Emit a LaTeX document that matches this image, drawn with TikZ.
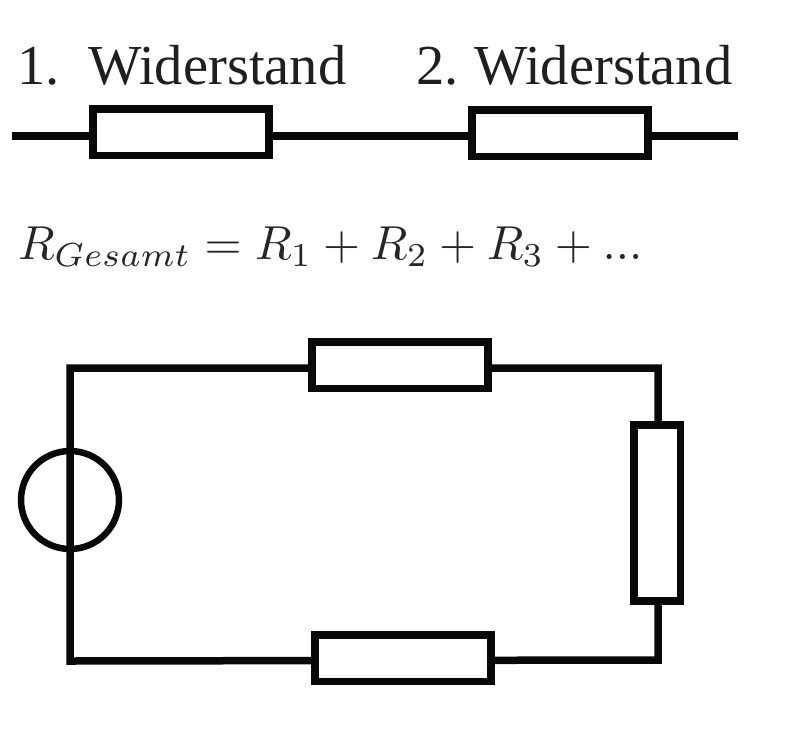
\documentclass[tikz,border=0pt]{standalone}
\usepackage{fontspec}
\setmainfont{Liberation Serif}
\begin{document}
\begin{tikzpicture}[x=1pt,y=-1pt,
  wire/.style={line width=7.5pt,draw=black!97},
  res/.style={draw=black!97,fill=white,line width=7.5pt,rectangle,inner sep=0pt,minimum width=176pt,minimum height=46.5pt},
  vres/.style={res,minimum width=46.5pt,minimum height=176pt},
  txt/.style={inner sep=0pt,anchor=base west,text=black!88},
  lbl/.style={txt,font=\fontsize{56.5}{56.5}\selectfont}]
\useasboundingbox (0,0) rectangle (800,747);
\node[lbl] (t1) at (17,84) {1.};
\node[lbl] (t2) at (88,84) {Widerstand};
\node[lbl] (t3) at (416,84) {2.};
\node[lbl] (t4) at (474,84) {Widerstand};
\coordinate (a) at (12,136);
\coordinate (b) at (738,136);
\draw[wire] (a) -- (b);
\node[res] (r1) at (181,132) {};
\node[res] (r2) at (560,133) {};
\node[txt,text=black!85] (f) at (18,259)
 {\resizebox{624pt}{!}{$R_{Gesamt}=R_1+R_2+R_3+...$}};
\coordinate (tl) at (70,368);
\coordinate (tr) at (658,368);
\coordinate (bl) at (70,661);
\coordinate (br) at (658,660);
\draw[wire,line join=miter] (tl) -- (tr) -- (br) -- (bl) -- cycle;
\node[res] (r3) at (400,365) {};
\node[vres] (r4) at (657,513) {};
\node[res] (r5) at (403,658) {};
\node[draw=black!97,line width=6.5pt,circle,minimum size=98pt,inner sep=0pt] (src) at (70,500) {};
\end{tikzpicture}
\end{document}
